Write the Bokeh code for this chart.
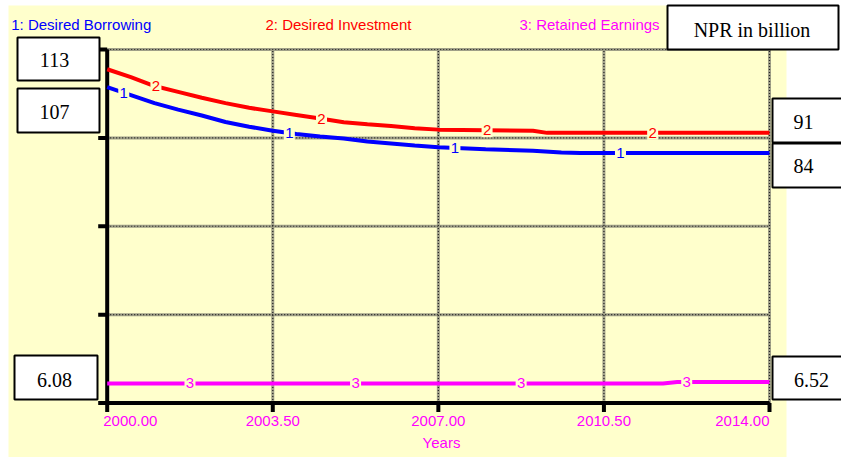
import numpy as np
from bokeh.plotting import figure
from bokeh.models import Range1d, BoxAnnotation, Label
from bokeh.core.properties import value
from bokeh.embed import file_html
from bokeh.resources import INLINE

# ---------------- data ----------------
borrow_years = [2000, 2000.5, 2001, 2001.5, 2002, 2002.5, 2003, 2003.5, 2004, 2004.5,
                2005, 2005.5, 2006, 2006.5, 2007, 2008, 2009, 2009.6, 2010, 2011, 2012, 2013, 2014]
desired_borrowing = [107.2, 104.5, 101.8, 99.6, 97.6, 95.4, 93.8, 92.4, 91.3, 90.5,
                     89.8, 88.8, 88.1, 87.4, 86.8, 86.1, 85.6, 85.0, 84.9, 84.9, 84.9, 84.9, 84.9]

invest_years = [2000, 2000.5, 2001, 2001.5, 2002, 2002.5, 2003, 2003.5, 2004, 2004.5,
                2005, 2005.5, 2006, 2006.5, 2007, 2008, 2009, 2009.3, 2010, 2011, 2012, 2013, 2014]
desired_investment = [113.3, 110.6, 107.6, 105.6, 103.6, 101.8, 100.2, 99.0, 97.8, 96.6,
                      95.3, 94.6, 94.0, 93.3, 92.8, 92.6, 92.4, 91.7, 91.7, 91.7, 91.7, 91.7, 91.7]

retained_years = [2000, 2011.75, 2012.05, 2014]
retained_earnings = [6.08, 6.08, 6.52, 6.52]

x_ticks = [2000.0, 2003.5, 2007.0, 2010.5, 2014.0]
x_tick_labels = ["2000.00", "2003.50", "2007.00", "2010.50", "2014.00"]
y_grid_values = [30, 60, 90, 120]
scale_12 = (0, 120)      # shared scale of series 1 and 2
scale_3 = (0, 110)       # scale of series 3

series_names = ["1: Desired Borrowing", "2: Desired Investment", "3: Retained Earnings"]
series_numbers = ["1", "2", "3"]
start_values = ["113", "107", "6.08"]
end_values = ["91", "84", "6.52"]
unit_label = "NPR in billion"
x_title = "Years"

# ---------------- styles ----------------
BG = "#FFFFCC"
BLUE, RED, MAGENTA = "#0000FF", "#FF0000", "#FF00FF"
SANS = value("Liberation Sans")
SERIF = "Liberation Serif"

W, H = 841, 457
# frame pixel geometry (canvas px, y from top)
PL, PR, PT, PB = 106.7, 769.0, 49.0, 402.5

xpp = (PR - PL) / (x_ticks[-1] - x_ticks[0])
x_start = x_ticks[0] - PL / xpp
x_end = x_ticks[-1] + (W - PR) / xpp

ypp = (PB - PT) / (scale_12[1] - scale_12[0])
y_start = scale_12[0] - (H - PB) / ypp
y_end = scale_12[1] + PT / ypp

ypp3 = (PB - PT) / (scale_3[1] - scale_3[0])
y3_start = scale_3[0] - (H - PB) / ypp3
y3_end = scale_3[1] + PT / ypp3

p = figure(width=W, height=H, output_backend="svg", toolbar_location=None,
           x_range=Range1d(x_start, x_end), y_range=Range1d(y_start, y_end),
           min_border=0, outline_line_color=None, background_fill_color="white",
           border_fill_color="white")
p.extra_y_ranges = {"re": Range1d(y3_start, y3_end)}
p.xaxis.visible = False
p.yaxis.visible = False
p.xgrid.visible = False
p.ygrid.visible = False


def sy(page_y):
    return H - page_y


def sx(page_x):
    return page_x


# yellow background panel
p.add_layout(BoxAnnotation(left=sx(8), right=sx(786), top=sy(5), bottom=sy(H),
                           left_units="screen", right_units="screen",
                           top_units="screen", bottom_units="screen",
                           fill_color=BG, fill_alpha=1, line_alpha=0, level="underlay"))

x0, x1 = x_ticks[0], x_ticks[-1]
y0, y1 = scale_12

# grid lines (dotted)
for col, w, dash in (("#A0A088", 3, "solid"), ("#222222", 1.2, "1 2")):
    p.segment(x0=[x0] * len(y_grid_values), x1=[x1] * len(y_grid_values),
              y0=y_grid_values, y1=y_grid_values, line_color=col, line_width=w, line_dash=dash)
    p.segment(x0=x_ticks[1:], x1=x_ticks[1:], y0=[y0] * 4, y1=[y1] * 4,
              line_color=col, line_width=w, line_dash=dash)

# axes
p.segment(x0=[x0], y0=[y0], x1=[x0], y1=[y1], line_color="black", line_width=4)
p.segment(x0=[x0], y0=[y0], x1=[x1], y1=[y0], line_color="black", line_width=4)
p.ray(x=[x0] * 5, y=[y0] + y_grid_values, length=9, length_units="screen", angle=np.pi,
      line_color="black", line_width=4)
p.ray(x=x_ticks, y=[y0] * 5, length=9, length_units="screen", angle=-np.pi / 2,
      line_color="black", line_width=4)

# tick labels
aligns = ["left"] + ["center"] * (len(x_ticks) - 2) + ["right"]
offs = [-4] + [0] * (len(x_ticks) - 2) + [0]
for xt, lab, al, of in zip(x_ticks, x_tick_labels, aligns, offs):
    p.text(x=[xt], y=[y0], text=[lab], x_offset=of, y_offset=18, text_align=al,
           text_baseline="middle", text_color=MAGENTA, text_font=SANS, text_font_size="15px")

# series lines
series = [
    (borrow_years, desired_borrowing, BLUE, "default", 0.35),
    (invest_years, desired_investment, RED, "default", 1.03),
    (retained_years, retained_earnings, MAGENTA, "re", 1.75),
]
for (xs, ys, col, rng, off), num in zip(series, series_numbers):
    p.line(xs, ys, line_color=col, line_width=4, y_range_name=rng)
    lx = [t + off for t in x_ticks[:-1]]
    ly = list(np.interp(lx, xs, ys))
    p.rect(lx, ly, width=11, height=14, width_units="screen", height_units="screen",
           fill_color=BG, line_color=None, y_range_name=rng)
    p.text(lx, ly, text=[num] * len(lx), text_color=col, text_font=SANS,
           text_font_size="15px", text_align="center", text_baseline="middle",
           y_range_name=rng)

# legend texts at top
for name, col, px in zip(series_names, [BLUE, RED, MAGENTA], [10.7, 265, 519]):
    p.add_layout(Label(x=sx(px), y=sy(23.5), x_units="screen", y_units="screen", text=name,
                       text_color=col, text_font="Liberation Sans", text_font_size="15px",
                       text_baseline="middle", text_align="left"))

p.add_layout(Label(x=sx(441), y=sy(442), x_units="screen", y_units="screen", text=x_title,
                   text_color=MAGENTA, text_font="Liberation Sans", text_font_size="15px",
                   text_baseline="middle", text_align="center"))

# value boxes (page coords: left, right, top, bottom, text center x, text center y, text)
boxes = [
    (17, 99, 37, 80, 54, 59, start_values[0]),
    (17, 99, 88, 132, 54, 111, start_values[1]),
    (14, 97, 355, 399, 54, 379, start_values[2]),
    (772, 870, 98, 142, 803, 121, end_values[0]),
    (772, 870, 143, 187, 803, 165, end_values[1]),
    (772, 870, 356, 399, 811, 379.5, end_values[2]),
    (667, 838, 5, 49, 751.5, 29, unit_label),
]
for l, r, t, b, cx, cy, txt in boxes:
    p.add_layout(BoxAnnotation(left=sx(l), right=sx(r), top=sy(t), bottom=sy(b),
                               left_units="screen", right_units="screen",
                               top_units="screen", bottom_units="screen",
                               fill_color="white", fill_alpha=1, line_color="black",
                               line_alpha=1, line_width=2, level="overlay"))
    p.add_layout(Label(x=sx(cx), y=sy(cy), x_units="screen", y_units="screen", text=txt,
                       text_color="black", text_font=SERIF, text_font_size="20px",
                       text_baseline="middle", text_align="center", level="overlay"))

open("out.html", "w").write(file_html(p, INLINE))
